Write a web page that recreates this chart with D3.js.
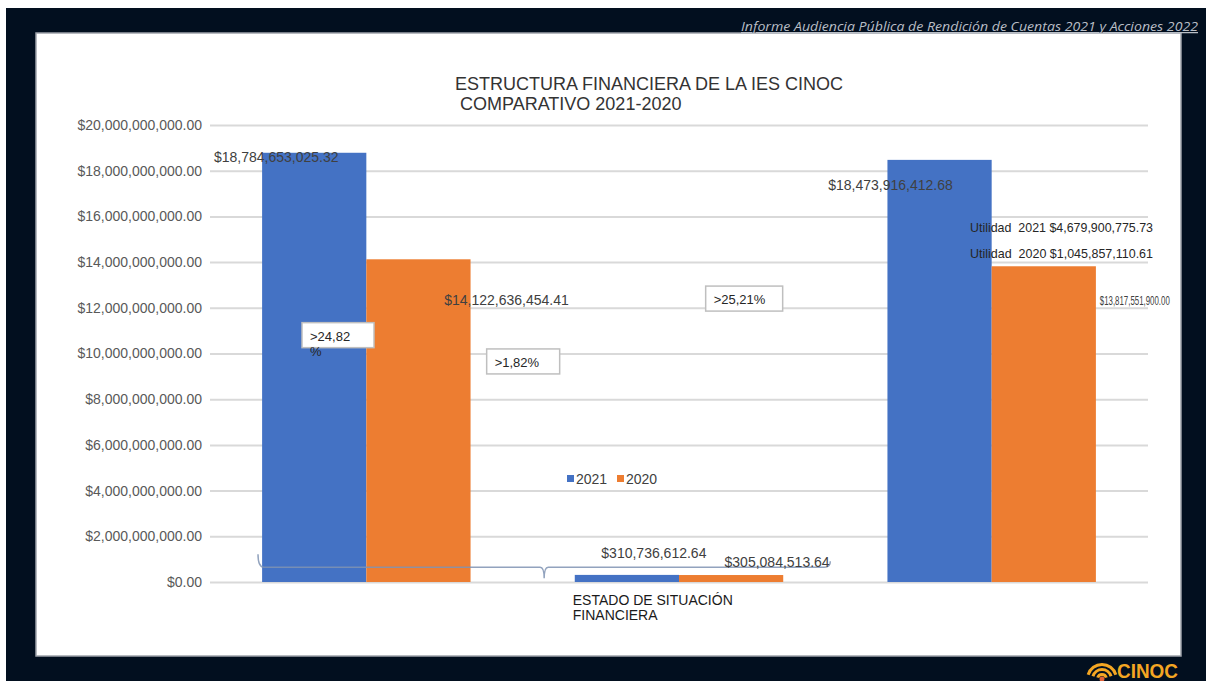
<!DOCTYPE html>
<html>
<head>
<meta charset="utf-8">
<script src="https://cdn.jsdelivr.net/npm/d3@7"></script>
<style>
  body { margin: 0; background: #fff; }
  svg { display: block; font-family: "Liberation Sans", Arial, sans-serif; }
</style>
</head>
<body>
<div id="chart"></div>
<script>
const W = 1206, H = 681;

// datos
const categories = ["g1", "ESTADO DE SITUACIÓN FINANCIERA", "g3"];
const categoryLabels = [[], ["ESTADO DE SITUACIÓN", "FINANCIERA"], []];
const series = ["2021", "2020"];
const values2021 = [18784653025.32, 310736612.64, 18473916412.68];
const values2020 = [14122636454.41, 305084513.64, 13817551900.00];
const yTicks = [0, 2e9, 4e9, 6e9, 8e9, 10e9, 12e9, 14e9, 16e9, 18e9, 20e9];
const pctLabels = [[">24,82", "%"], [">1,82%"], [">25,21%"]];
const utilidadLabels = ["Utilidad  2021 $4,679,900,775.73", "Utilidad  2020 $1,045,857,110.61"];
const titleLines = ["ESTRUCTURA FINANCIERA DE LA IES CINOC", " COMPARATIVO 2021-2020"];
const headerText = "Informe Audiencia Pública de Rendición de Cuentas 2021 y Acciones 2022";

const colors = { "2021": "#4472c4", "2020": "#ed7d31" };
const fmt = v => "$" + d3.format(",.2f")(v);

const svg = d3.select("#chart").append("svg")
  .attr("width", W).attr("height", H);

// fondo oscuro y panel blanco
svg.append("rect").attr("x", 6).attr("y", 8).attr("width", W - 6).attr("height", H - 8)
  .attr("fill", "#020f1f");
svg.append("rect").attr("x", 36).attr("y", 33).attr("width", 1145).attr("height", 623)
  .attr("fill", "#fff").attr("stroke", "#9ea3aa").attr("stroke-width", 1.5);

// encabezado
svg.append("text").attr("x", 1198).attr("y", 31).attr("text-anchor", "end")
  .attr("font-family", "'Open Sans', sans-serif").attr("font-style", "italic")
  .attr("font-size", 12.5).attr("fill", "#b9bec5")
  .attr("text-decoration", "underline")
  .attr("textLength", 457).attr("lengthAdjust", "spacingAndGlyphs")
  .text(headerText);

// escalas
const y = d3.scaleLinear().domain([0, 20e9]).range([582, 125]);
const x0 = d3.scaleBand().domain(categories).range([210, 1148]);
const bw = x0.bandwidth();
const x1 = d3.scaleBand().domain(series).range([bw / 6, bw * 5 / 6]);

// eje y con rejilla
const yAxis = svg.append("g").attr("transform", "translate(210,0)")
  .call(d3.axisLeft(y).tickValues(yTicks).tickFormat(fmt)
    .tickSizeInner(-(1148 - 210)).tickSizeOuter(0).tickPadding(8));
yAxis.select(".domain").remove();
yAxis.selectAll("line").attr("stroke", "#d9d9d9").attr("stroke-width", 2);
yAxis.selectAll("text").attr("fill", "#595959").attr("font-size", 14)
  .attr("font-family", "'Liberation Sans', Arial, sans-serif");

// título
svg.append("g").selectAll("text").data(titleLines).join("text")
  .attr("x", 455)
  .attr("y", (d, i) => 90 + i * 20)
  .attr("font-size", 18).attr("fill", "#333")
  .attr("xml:space", "preserve")
  .style("white-space", "pre")
  .text(d => d);

// barras
const rows = categories.map((c, i) => ({ cat: c, vals: [
  { s: "2021", v: values2021[i], i }, { s: "2020", v: values2020[i], i }] }));

const groups = svg.append("g").selectAll("g").data(rows).join("g")
  .attr("transform", d => `translate(${x0(d.cat)},0)`);
groups.selectAll("rect").data(d => d.vals).join("rect")
  .attr("x", d => x1(d.s))
  .attr("y", d => y(d.v))
  .attr("width", x1.bandwidth())
  .attr("height", d => y(0) - y(d.v))
  .attr("fill", d => colors[d.s]);

// llave decorativa
const bx0 = x0(categories[0]) + 48, bx1 = x0(categories[1]) + bw - 5;
const bmid = (bx0 + bx1) / 2, by = y(0.65e9);
svg.append("path")
  .attr("d", `M${bx0},${by - 13} Q${bx0},${by} ${bx0 + 6},${by} L${bmid - 4},${by} Q${bmid},${by} ${bmid},${by + 11} Q${bmid},${by} ${bmid + 4},${by} L${bx1 - 6},${by} Q${bx1},${by} ${bx1},${by - 6}`)
  .attr("fill", "none").attr("stroke", "#7f93b3").attr("stroke-width", 1.5).attr("opacity", 0.85);

// etiquetas de datos (desplazamientos y ancho forzado)
const labelOffsets = {
  "2021": [[-38, 9, null], [27, -17, null], [-49, 30, null]],
  "2020": [[88, 46, null], [46, -8, null], [91, 39, 70]]
};
rows.forEach(r => r.vals.forEach(d => {
  const off = labelOffsets[d.s][d.i];
  const t = svg.append("text")
    .attr("x", x0(r.cat) + x1(d.s) + x1.bandwidth() / 2 + off[0])
    .attr("y", y(d.v) + off[1])
    .attr("text-anchor", "middle")
    .attr("font-size", off[2] ? 13 : 14).attr("fill", "#404040")
    .text(fmt(d.v));
  if (off[2]) t.attr("textLength", off[2]).attr("lengthAdjust", "spacingAndGlyphs");
}));

// etiquetas de categoría
categoryLabels.forEach((lines, i) => {
  lines.forEach((t, j) => {
    svg.append("text")
      .attr("x", x0(categories[i]) + bw / 6 - 2)
      .attr("y", 605 + j * 15)
      .attr("font-size", 14).attr("fill", "#1a1a1a")
      .text(t);
  });
});

// leyenda
const leg = svg.append("g").attr("transform", "translate(567,479)");
series.forEach((s, i) => {
  const g = leg.append("g").attr("transform", `translate(${i * 50},0)`);
  g.append("rect").attr("x", 0).attr("y", -4).attr("width", 7).attr("height", 7).attr("fill", colors[s]);
  g.append("text").attr("x", 9).attr("y", 5).attr("font-size", 14).attr("fill", "#404040").text(s);
});

// cuadros de porcentaje
const pctPos = [
  { x: x0(categories[0]) + 92, y: y(11.35e9), w: 72 },
  { x: x0(categories[1]) - 36, y: y(10.2e9), w: 73 },
  { x: x0(categories[1]) + 183, y: y(12.95e9), w: 77 }
];
pctLabels.forEach((lines, i) => {
  const p = pctPos[i];
  svg.append("rect").attr("x", p.x).attr("y", p.y).attr("width", p.w).attr("height", 25)
    .attr("fill", "#fff").attr("stroke", "#bfbfbf").attr("stroke-width", 1.5);
  lines.forEach((t, j) => {
    svg.append("text").attr("x", p.x + 8).attr("y", p.y + 18 + j * 15)
      .attr("font-size", 13).attr("fill", "#262626").text(t);
  });
});

// utilidades
utilidadLabels.forEach((t, i) => {
  svg.append("text").attr("x", 970).attr("y", y(15.3e9) + i * 26)
    .attr("font-size", 13).attr("fill", "#262626")
    .attr("textLength", 183).attr("lengthAdjust", "spacingAndGlyphs")
    .attr("xml:space", "preserve").style("white-space", "pre")
    .text(t);
});

// logo
const logo = svg.append("g").attr("transform", "translate(1090,660)");
[16, 11, 6].forEach(r => {
  logo.append("path")
    .attr("d", d3.arc()({ innerRadius: r - 3, outerRadius: r, startAngle: -Math.PI / 2 + 0.3, endAngle: Math.PI / 2 - 0.3 }))
    .attr("transform", "translate(12,19)")
    .attr("fill", "#f4a623");
});
logo.append("circle").attr("cx", 12).attr("cy", 19).attr("r", 2.5).attr("fill", "#e0623a");
logo.append("text").attr("x", 27).attr("y", 18).attr("font-size", 20).attr("font-weight", "bold")
  .attr("fill", "#f4a623").attr("textLength", 61).attr("lengthAdjust", "spacingAndGlyphs")
  .text("CINOC");
</script>
</body>
</html>
